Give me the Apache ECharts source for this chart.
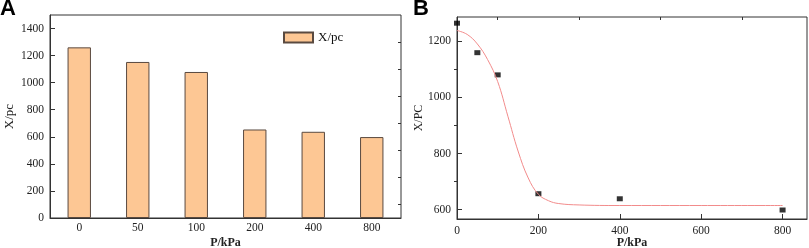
<!DOCTYPE html>
<html>
<head>
<meta charset="utf-8">
<script src="https://cdn.jsdelivr.net/npm/echarts@6/dist/echarts.min.js"></script>
<style>
  html, body { margin: 0; padding: 0; background: #fff; }
  #main { width: 809px; height: 248px; }
</style>
</head>
<body>
<div id="main"></div>
<script>
var chartDom = document.getElementById('main');
var myChart = echarts.init(chartDom);

// panel A: bars
var pressureCats = ['0', '50', '100', '200', '400', '800'];
var xpcValues = [1261, 1153, 1079, 654, 637, 598];

// panel B: measured points and fitted curve
var pointsX = [0, 50, 100, 200, 400, 800];
var pointsY = [1264, 1159, 1080, 657, 639, 599];
var fitX = [0, 25, 50, 75, 100, 125, 150, 175, 200, 225, 250, 300, 400, 600, 800];
var fitY = [1238, 1224, 1190, 1135, 1056, 933, 809, 713, 655, 632, 622, 617, 615, 615, 615];

var aMajor = [0, 200, 400, 600, 800, 1000, 1200, 1400];
var aMinor = [100, 300, 500, 700, 900, 1100, 1300];
var bYMajor = [600, 800, 1000, 1200];
var bYMinor = [700, 900, 1100];
var bXMajor = [0, 200, 400, 600, 800];
var bXMinor = [100, 300, 500, 700];

var serif = 'Liberation Serif';
var lineCol = '#333';

function pairs(xs, ys) {
  return xs.map(function (x, i) { return [x, ys[i]]; });
}

function valAxis(gridIndex, min, max, ticks, labels, tickLen, extra) {
  var ax = {
    type: 'value',
    gridIndex: gridIndex,
    min: min,
    max: max,
    splitLine: { show: false },
    axisLine: { show: true, lineStyle: { color: lineCol, width: 1 } },
    axisTick: { show: true, inside: true, length: tickLen, customValues: ticks, lineStyle: { color: lineCol } },
    axisLabel: labels ? {
      show: true, customValues: ticks, margin: 6,
      fontFamily: serif, fontSize: 11.5, color: '#222',
      formatter: function (v) { return String(v); }
    } : { show: false }
  };
  for (var k in extra) ax[k] = extra[k];
  return ax;
}

var option = {
  animation: false,
  textStyle: { fontFamily: serif },
  graphic: [
    { type: 'text', left: 0, top: -2, style: { text: 'A', font: 'bold 22px "Liberation Sans"', fill: '#000' } },
    { type: 'text', left: 413, top: -2, style: { text: 'B', font: 'bold 22px "Liberation Sans"', fill: '#000' } }
  ],
  grid: [
    { left: 50, right: 408, top: 15, bottom: 30, outerBoundsMode: 'none', show: true, borderColor: lineCol, borderWidth: 1 },
    { left: 457, right: 2, top: 17, bottom: 29, outerBoundsMode: 'none', show: true, borderColor: lineCol, borderWidth: 1 }
  ],
  legend: {
    data: [{ name: 'X/pc', icon: 'rect' }],
    left: 283,
    top: 31,
    padding: 0,
    itemWidth: 29,
    itemHeight: 10,
    itemGap: 6,
    textStyle: { fontFamily: serif, fontSize: 13, color: '#111' }
  },
  xAxis: [
    {
      type: 'category',
      gridIndex: 0,
      data: pressureCats,
      name: 'P/kPa',
      nameLocation: 'middle',
      nameGap: 19,
      nameMoveOverlap: false,
      nameTextStyle: { fontFamily: serif, fontSize: 12, fontWeight: 'bold', color: '#222' },
      axisLine: { show: true, lineStyle: { color: lineCol, width: 1 } },
      axisTick: { show: true, inside: true, length: 4, alignWithLabel: true, lineStyle: { color: lineCol } },
      axisLabel: { margin: 4, fontFamily: serif, fontSize: 11.5, color: '#222' }
    },
    valAxis(1, 0, 860, bXMajor, true, 5, {
      name: 'P/kPa',
      nameLocation: 'middle',
      nameGap: 18,
      nameMoveOverlap: false,
      nameTextStyle: { fontFamily: serif, fontSize: 12, fontWeight: 'bold', color: '#222' }
    }),
    valAxis(1, 0, 860, bXMinor, false, 3, { axisLine: { show: false } })
  ],
  yAxis: [
    valAxis(0, 0, 1500, aMajor, true, 5, {
      name: 'X/pc',
      nameLocation: 'middle',
      nameGap: 34,
      nameMoveOverlap: false,
      nameTextStyle: { fontFamily: serif, fontSize: 13, color: '#222' }
    }),
    valAxis(0, 0, 1500, aMinor, false, 3, { axisLine: { show: false } }),
    valAxis(1, 567, 1286, bYMajor, true, 5, {
      name: 'X/PC',
      nameLocation: 'middle',
      nameGap: 32,
      nameMoveOverlap: false,
      nameTextStyle: { fontFamily: serif, fontSize: 12, color: '#222' }
    }),
    valAxis(1, 567, 1286, bYMinor, false, 3, { axisLine: { show: false } })
  ],
  series: [
    {
      name: 'X/pc',
      type: 'bar',
      xAxisIndex: 0,
      yAxisIndex: 0,
      data: xpcValues,
      barWidth: '40%',
      itemStyle: { color: '#fdc794', borderColor: '#5a4a40', borderWidth: 1 }
    },
    {
      name: 'fit',
      type: 'line',
      xAxisIndex: 1,
      yAxisIndex: 2,
      data: pairs(fitX, fitY),
      smooth: 0.4,
      showSymbol: false,
      lineStyle: { color: '#f28b8b', width: 1 }
    },
    {
      name: 'points',
      type: 'scatter',
      xAxisIndex: 1,
      yAxisIndex: 2,
      data: pairs(pointsX, pointsY),
      symbol: 'rect',
      symbolSize: [6, 5],
      itemStyle: { color: '#000' }
    }
  ]
};

myChart.setOption(option);
</script>
</body>
</html>
